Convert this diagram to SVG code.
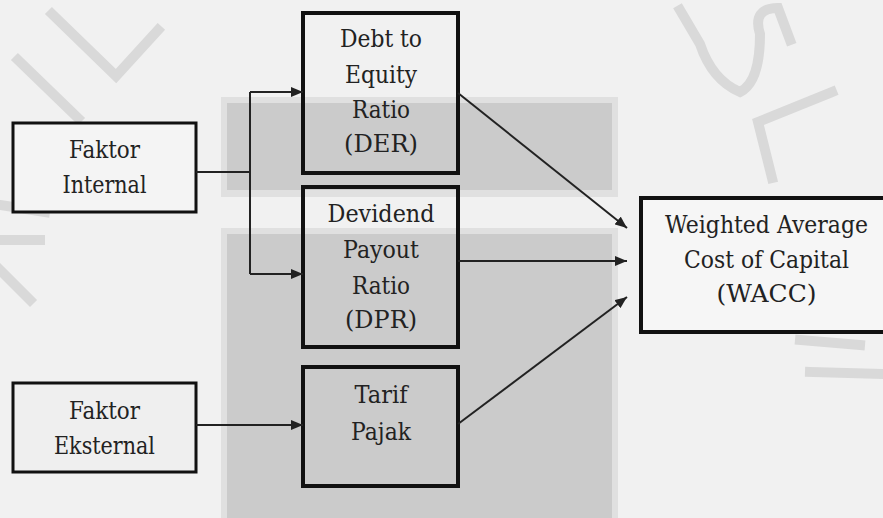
<svg xmlns="http://www.w3.org/2000/svg" width="883" height="518" viewBox="0 0 883 518">
<style>
.box{fill:none;stroke:#111;stroke-width:4}
.thin{stroke-width:3}
.t{font-family:'DejaVu Serif','Liberation Serif','Times New Roman',serif;font-size:25px;fill:#222;text-anchor:middle}
.c{fill:none;stroke:#222;stroke-width:2}
.wm{fill:none;stroke:#d9d9d9;stroke-width:10;stroke-linecap:square;stroke-linejoin:miter}
</style>
<defs>
<marker id="ah" viewBox="0 0 12 10" refX="12" refY="5" markerWidth="12" markerHeight="10" markerUnits="userSpaceOnUse" orient="auto">
<path d="M0,0 L12,5 L0,10 Z" fill="#222"/>
</marker>
</defs>
<rect width="883" height="518" fill="#f1f1f1"/>
<g id="watermark">
<path class="wm" d="M18,60 L78,118"/>
<path class="wm" d="M52,14 L116,76 L158,30"/>
<path class="wm" d="M680,10 L700,44 Q712,80 740,92 Q760,82 760,34 Q752,8 778,8 L790,40"/>
<path class="wm" d="M832,92 L758,122 L772,178"/>
<path class="wm" d="M0,205 L45,212 M0,240 L40,240 M0,270 L30,300"/>
<path class="wm" d="M800,340 L860,345 M810,372 L883,374"/>
</g>
<g id="shading">
<rect x="221" y="97" width="397" height="100" fill="#e0e0e0"/>
<rect x="227" y="103" width="385" height="87" fill="#cbcbcb"/>
<rect x="221" y="228" width="397" height="290" fill="#e0e0e0"/>
<rect x="227" y="234" width="385" height="284" fill="#cbcbcb"/>
</g>
<g id="faktor-internal">
<rect class="box thin" x="13" y="123" width="183" height="89" style="fill:#f4f4f4"/>
<text class="t" x="104.5" y="158" textLength="71" lengthAdjust="spacingAndGlyphs">Faktor</text>
<text class="t" x="104.5" y="193" textLength="84" lengthAdjust="spacingAndGlyphs">Internal</text>
</g>
<g id="faktor-eksternal">
<rect class="box thin" x="13" y="383" width="183" height="89" style="fill:#efefef"/>
<text class="t" x="104.5" y="419" textLength="71" lengthAdjust="spacingAndGlyphs">Faktor</text>
<text class="t" x="104.5" y="454" textLength="101" lengthAdjust="spacingAndGlyphs">Eksternal</text>
</g>
<g id="der">
<rect class="box" x="303" y="13" width="155" height="160"/>
<text class="t" x="381" y="47" textLength="82" lengthAdjust="spacingAndGlyphs">Debt to</text>
<text class="t" x="381" y="83" textLength="72" lengthAdjust="spacingAndGlyphs">Equity</text>
<text class="t" x="381" y="118" textLength="58" lengthAdjust="spacingAndGlyphs">Ratio</text>
<text class="t" x="381" y="152" textLength="74" lengthAdjust="spacingAndGlyphs">(DER)</text>
</g>
<g id="dpr">
<rect class="box" x="303" y="187" width="155" height="160"/>
<text class="t" x="381" y="222" textLength="107" lengthAdjust="spacingAndGlyphs">Devidend</text>
<text class="t" x="381" y="258" textLength="76" lengthAdjust="spacingAndGlyphs">Payout</text>
<text class="t" x="381" y="294" textLength="58" lengthAdjust="spacingAndGlyphs">Ratio</text>
<text class="t" x="381" y="328" textLength="72" lengthAdjust="spacingAndGlyphs">(DPR)</text>
</g>
<g id="tarif-pajak">
<rect class="box" x="303" y="367" width="155" height="119"/>
<text class="t" x="381" y="403" textLength="53" lengthAdjust="spacingAndGlyphs">Tarif</text>
<text class="t" x="381" y="440" textLength="60" lengthAdjust="spacingAndGlyphs">Pajak</text>
</g>
<g id="wacc">
<rect class="box" x="641" y="198" width="252" height="134" style="fill:#f6f6f6"/>
<text class="t" x="766.5" y="233" textLength="203" lengthAdjust="spacingAndGlyphs">Weighted Average</text>
<text class="t" x="766.5" y="268" textLength="165" lengthAdjust="spacingAndGlyphs">Cost of Capital</text>
<text class="t" x="766.5" y="302" textLength="100" lengthAdjust="spacingAndGlyphs">(WACC)</text>
</g>
<g id="connectors">
<path class="c" d="M196,172 H250"/>
<path class="c" d="M250,92 V274"/>
<path class="c" d="M250,92 H303" marker-end="url(#ah)"/>
<path class="c" d="M250,274 H303" marker-end="url(#ah)"/>
<path class="c" d="M196,425 H303" marker-end="url(#ah)"/>
<path class="c" d="M458,93 L627,228" marker-end="url(#ah)"/>
<path class="c" d="M458,261 H627" marker-end="url(#ah)"/>
<path class="c" d="M458,424 L627,297" marker-end="url(#ah)"/>
</g>
</svg>
